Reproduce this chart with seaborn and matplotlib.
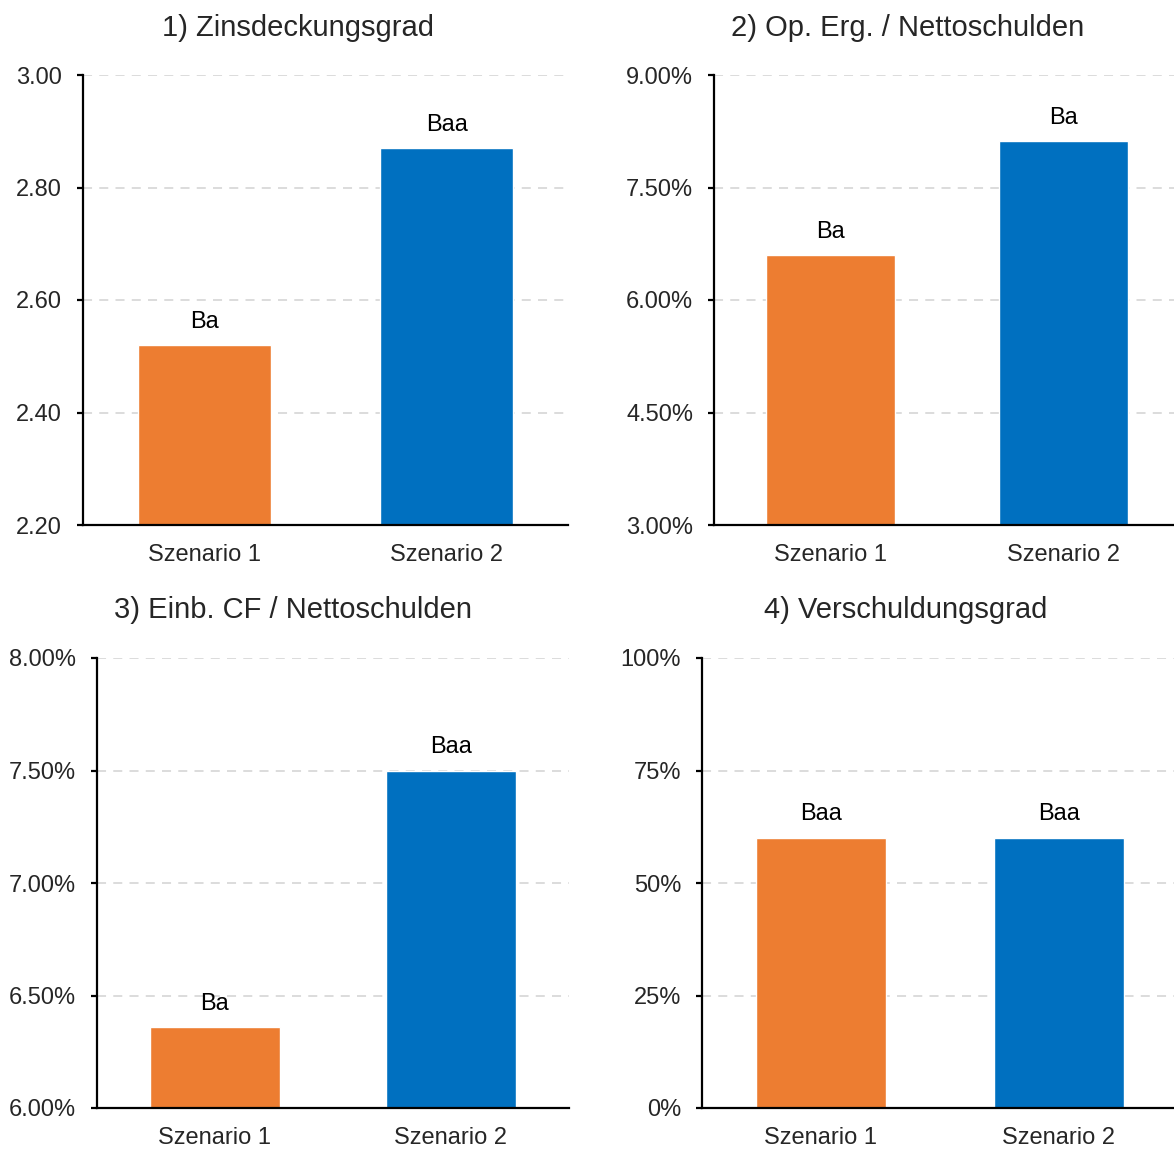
import matplotlib
matplotlib.use("Agg")
import matplotlib.pyplot as plt
import matplotlib.ticker as mticker
import seaborn as sns
import pandas as pd

# Data
scenarios = ["Szenario 1", "Szenario 2"]
titles = ["1) Zinsdeckungsgrad", "2) Op. Erg. / Nettoschulden",
          "3) Einb. CF / Nettoschulden", "4) Verschuldungsgrad"]
zinsdeckung = [2.52, 2.87]
op_erg = [6.60, 8.12]
einb_cf = [6.36, 7.50]
verschuldung = [60.0, 60.0]
ratings_1 = ["Ba", "Baa"]
ratings_2 = ["Ba", "Ba"]
ratings_3 = ["Ba", "Baa"]
ratings_4 = ["Baa", "Baa"]

colors = ["#ED7D31", "#0070C0"]

sns.set_theme(style="white")
plt.rcParams["font.family"] = ["Liberation Sans", "DejaVu Sans"]

W, H = 1174, 1149
fig = plt.figure(figsize=(W / 100, H / 100), dpi=100)


def px_axes(left, top, right, bottom):
    return fig.add_axes([left / W, 1 - bottom / H, (right - left) / W, (bottom - top) / H])


panels = [
    dict(box=(83, 75, 568, 525), vals=zinsdeckung, labels=ratings_1, lim=(2.2, 3.0), step=0.2,
         fmt=lambda v, p: f"{v:.2f}", title=titles[0], tpos=(298, 28)),
    dict(box=(714, 75, 1180, 525), vals=op_erg, labels=ratings_2, lim=(3.0, 9.0), step=1.5,
         fmt=lambda v, p: f"{v:.2f}%", title=titles[1], tpos=(908, 28)),
    dict(box=(97, 658, 569, 1108), vals=einb_cf, labels=ratings_3, lim=(6.0, 8.0), step=0.5,
         fmt=lambda v, p: f"{v:.2f}%", title=titles[2], tpos=(293, 610)),
    dict(box=(702, 658, 1178, 1108), vals=verschuldung, labels=ratings_4, lim=(0, 100), step=25,
         fmt=lambda v, p: f"{v:.0f}%", title=titles[3], tpos=(906, 610)),
]

for pnl in panels:
    ax = px_axes(*pnl["box"])
    df = pd.DataFrame({"Szenario": scenarios, "Wert": pnl["vals"]})
    sns.barplot(data=df, x="Szenario", y="Wert", hue="Szenario", palette=colors,
                width=0.55, ax=ax, legend=False, saturation=1)
    lo, hi = pnl["lim"]
    ax.set_ylim(lo, hi)
    ax.set_xlim(-0.5, 1.5)
    ax.yaxis.set_major_locator(mticker.MultipleLocator(pnl["step"]))
    ax.yaxis.set_major_formatter(mticker.FuncFormatter(pnl["fmt"]))
    ax.set_xlabel("")
    ax.set_ylabel("")
    for s in ["top", "right"]:
        ax.spines[s].set_visible(False)
    for s in ["left", "bottom"]:
        ax.spines[s].set_color("black")
        ax.spines[s].set_linewidth(1.6)
    ax.grid(axis="y", color="#D9D9D9", linestyle=(0, (5, 4)), linewidth=1.3)
    ax.set_axisbelow(True)
    ax.tick_params(axis="y", length=4, width=1.6, color="black", direction="out",
                   labelsize=17, pad=11, left=True)
    ax.tick_params(axis="x", length=0, labelsize=17, pad=13.5)
    for lbl in ax.get_yticklabels() + ax.get_xticklabels():
        lbl.set_color("#262626")
    for i, (v, r) in enumerate(zip(pnl["vals"], pnl["labels"])):
        ax.annotate(r, (i, v), xytext=(0, 9), textcoords="offset points",
                    ha="center", va="bottom", fontsize=17, color="black")
    tx, ty = pnl["tpos"]
    fig.text(tx / W, 1 - ty / H, pnl["title"], ha="center", va="center",
             fontsize=21, color="#262626")

fig.savefig("out.png", dpi=100)
